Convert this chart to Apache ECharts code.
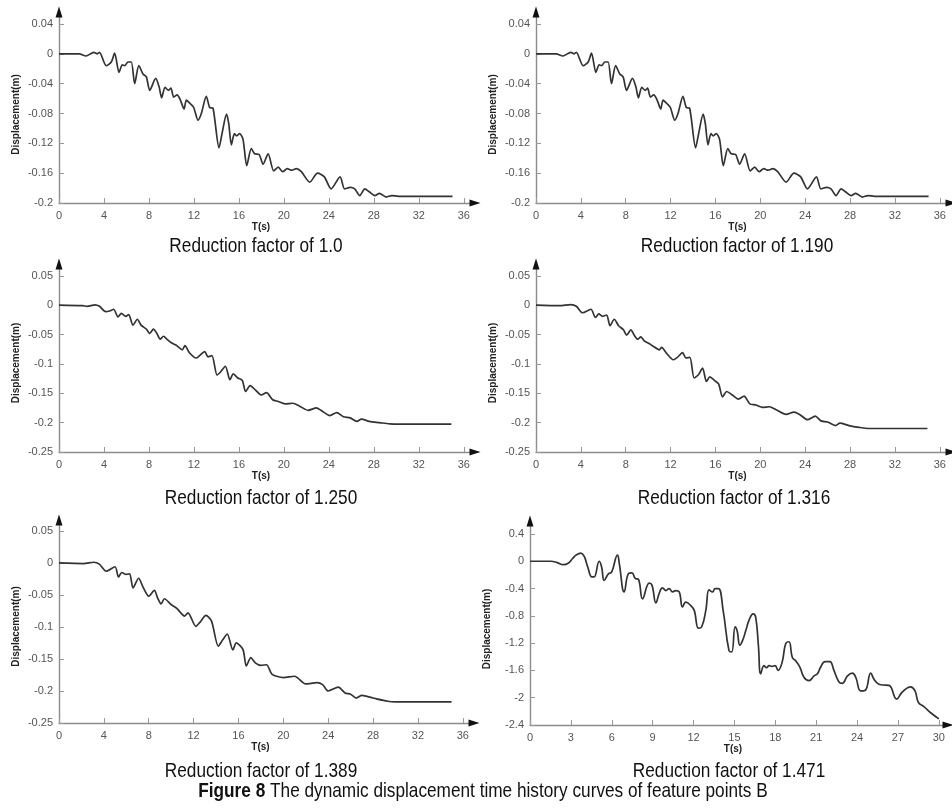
<!DOCTYPE html>
<html><head><meta charset="utf-8">
<script src="https://cdn.jsdelivr.net/npm/echarts@6/dist/echarts.min.js"></script>
<style>html,body{margin:0;padding:0;background:#fff}#c{width:952px;height:812px}</style>
</head><body><div id="c"></div>
<script>
// ---- data ----
const t1 = [0,1.8,2.4,3.1,3.4,3.6,4.2,4.65,4.95,5.34,5.63,5.84,6.14,6.43,6.73,7.1,7.47,7.77,8.07,8.6,8.9,9.13,9.43,9.73,9.95,10.2,10.5,10.8,11.12,11.33,11.68,11.98,12.37,12.66,13.1,13.4,13.7,14.23,14.5,14.9,15.1,15.33,15.6,15.8,16.07,16.37,16.7,17.1,17.4,17.8,18.15,18.6,19.1,19.5,19.9,20.3,20.7,21.1,21.55,22.3,23.0,23.6,24.2,25.0,25.4,25.9,26.3,26.75,27.2,27.6,28.1,28.5,29.1,29.6,30.2,35];
const d1 = [0,0,-0.003,0.002,0,0.002,-0.016,-0.011,0.001,-0.025,-0.015,-0.016,-0.011,-0.011,-0.040,-0.016,-0.027,-0.031,-0.049,-0.033,-0.044,-0.059,-0.045,-0.049,-0.046,-0.058,-0.055,-0.062,-0.074,-0.062,-0.067,-0.072,-0.089,-0.080,-0.057,-0.072,-0.073,-0.126,-0.107,-0.081,-0.094,-0.122,-0.107,-0.110,-0.107,-0.115,-0.150,-0.127,-0.134,-0.135,-0.148,-0.134,-0.157,-0.152,-0.158,-0.154,-0.156,-0.154,-0.158,-0.172,-0.160,-0.165,-0.181,-0.165,-0.181,-0.179,-0.181,-0.190,-0.181,-0.185,-0.190,-0.187,-0.192,-0.190,-0.191,-0.191];
const t2 = [0,1.8,2.4,3.1,3.4,3.6,4.2,4.65,4.95,5.34,5.63,5.84,6.14,6.43,6.73,7.1,7.47,7.77,8.07,8.6,8.9,9.13,9.43,9.73,9.95,10.2,10.5,10.8,11.12,11.33,11.68,11.98,12.37,12.66,13.1,13.4,13.7,14.23,14.5,14.9,15.1,15.33,15.6,15.8,16.07,16.37,16.7,17.1,17.4,17.8,18.15,18.6,19.1,19.5,19.9,20.3,20.7,21.1,21.55,22.3,23.0,23.6,24.2,25.0,25.4,25.9,26.3,26.75,27.2,27.6,28.1,28.5,29.1,29.6,30.2,35];
const d2 = [0,0,-0.003,0.002,0,0.002,-0.016,-0.011,0.001,-0.025,-0.015,-0.016,-0.011,-0.011,-0.040,-0.016,-0.027,-0.031,-0.049,-0.033,-0.044,-0.059,-0.045,-0.049,-0.046,-0.058,-0.055,-0.062,-0.074,-0.062,-0.067,-0.072,-0.089,-0.080,-0.057,-0.072,-0.073,-0.126,-0.107,-0.081,-0.094,-0.122,-0.107,-0.110,-0.107,-0.115,-0.150,-0.127,-0.134,-0.135,-0.148,-0.134,-0.157,-0.152,-0.158,-0.154,-0.156,-0.154,-0.158,-0.172,-0.160,-0.165,-0.181,-0.165,-0.181,-0.179,-0.181,-0.190,-0.181,-0.185,-0.190,-0.187,-0.192,-0.190,-0.191,-0.191];
const t3 = [0,2.1,2.5,3.2,3.6,4.15,4.5,4.86,5.25,5.55,5.93,6.2,6.58,6.97,7.3,7.77,8.07,8.4,8.7,9.0,9.3,9.6,10.0,10.4,10.97,11.2,11.6,12.2,12.5,12.96,13.25,13.6,14.06,14.4,14.8,15.2,15.5,15.9,16.3,16.6,17.0,17.5,18.0,18.45,19.0,19.5,20.1,20.8,21.4,22.15,22.9,23.3,24.1,24.7,25.3,25.9,26.5,26.9,27.6,28.5,29.4,30.3,34.9];
const d3 = [0,-0.001,-0.002,0.0005,-0.002,-0.011,-0.010,-0.007,-0.020,-0.014,-0.019,-0.016,-0.034,-0.024,-0.034,-0.041,-0.048,-0.041,-0.048,-0.058,-0.053,-0.058,-0.064,-0.068,-0.076,-0.069,-0.081,-0.090,-0.086,-0.079,-0.088,-0.086,-0.119,-0.113,-0.104,-0.127,-0.117,-0.124,-0.128,-0.147,-0.137,-0.145,-0.153,-0.149,-0.161,-0.164,-0.168,-0.167,-0.172,-0.179,-0.175,-0.179,-0.188,-0.183,-0.190,-0.192,-0.198,-0.194,-0.198,-0.200,-0.202,-0.2025,-0.2025];
const t4 = [0,2.1,3.1,3.6,4.15,4.9,5.3,5.6,5.94,6.3,6.6,6.98,7.36,7.8,8.08,8.46,8.75,9.06,9.35,9.65,10.04,10.45,11.0,11.2,11.64,12.24,12.6,13.07,13.36,13.72,14.1,14.5,14.85,15.2,15.5,15.9,16.28,16.63,17.0,17.5,18.05,18.55,19.06,19.6,20.2,20.8,21.4,22.3,23.0,23.5,24.2,24.9,25.4,26.0,26.7,27.1,27.9,28.8,29.7,34.9];
const d4 = [0,-0.001,0.001,-0.002,-0.013,-0.007,-0.021,-0.015,-0.019,-0.017,-0.035,-0.024,-0.035,-0.042,-0.051,-0.042,-0.051,-0.058,-0.054,-0.061,-0.065,-0.070,-0.076,-0.072,-0.082,-0.093,-0.089,-0.081,-0.090,-0.089,-0.124,-0.118,-0.107,-0.130,-0.122,-0.128,-0.134,-0.156,-0.147,-0.153,-0.160,-0.155,-0.168,-0.170,-0.174,-0.173,-0.178,-0.186,-0.182,-0.186,-0.195,-0.189,-0.197,-0.199,-0.205,-0.201,-0.205,-0.208,-0.210,-0.210];
const t5 = [0,2.2,3.1,3.6,4.2,5.0,5.3,5.6,6.0,6.3,6.6,7.1,7.5,8.0,8.5,8.8,9.1,9.4,10.0,10.5,11.2,11.5,12.2,12.6,13.1,13.6,14.2,14.6,15.0,15.5,15.8,16.4,16.7,17.1,17.5,18.0,18.5,19.0,20.0,21.0,22.0,23.0,23.5,24.0,24.9,25.5,26.0,26.5,27.0,28.0,29.3,30.0,35.0];
const d5 = [0,-0.001,0.001,-0.002,-0.013,-0.006,-0.022,-0.015,-0.018,-0.017,-0.039,-0.024,-0.038,-0.052,-0.043,-0.055,-0.064,-0.056,-0.065,-0.071,-0.083,-0.078,-0.099,-0.092,-0.082,-0.091,-0.130,-0.120,-0.111,-0.136,-0.125,-0.135,-0.161,-0.148,-0.156,-0.160,-0.159,-0.174,-0.179,-0.177,-0.189,-0.187,-0.190,-0.200,-0.194,-0.203,-0.205,-0.211,-0.207,-0.211,-0.216,-0.217,-0.217];
const t6 = [0,1.54,2.0,2.44,2.8,3.13,3.37,3.74,3.98,4.23,4.54,4.7,5.08,5.25,5.45,5.77,5.95,6.42,6.55,6.91,7.23,7.48,7.72,7.97,8.26,8.75,8.95,9.24,9.48,9.72,9.97,10.2,10.46,10.7,10.95,11.19,11.43,11.8,12.05,12.36,12.6,12.9,13.14,13.4,13.58,13.83,14.17,14.6,14.8,15.05,15.2,15.4,15.6,15.83,16.08,16.37,16.56,16.76,16.93,17.17,17.35,17.54,17.75,17.98,18.2,18.5,18.76,19.0,19.25,19.5,19.8,20.1,20.47,20.84,21.09,21.33,21.65,22.0,22.3,22.67,22.9,23.3,23.65,23.9,24.26,24.6,25.0,25.24,25.5,25.73,26.34,26.9,27.3,27.93,28.25,28.5,28.9,29.4,30.0];
const d6 = [0,0,-0.02,-0.05,-0.03,0.04,0.09,0.12,0.07,-0.08,-0.23,-0.23,0.0,-0.08,-0.28,-0.18,-0.17,0.09,-0.03,-0.45,-0.18,-0.17,-0.25,-0.27,-0.55,-0.32,-0.35,-0.61,-0.47,-0.39,-0.43,-0.40,-0.45,-0.43,-0.45,-0.67,-0.60,-0.65,-0.72,-0.98,-0.96,-0.72,-0.42,-0.45,-0.40,-0.40,-0.72,-1.31,-1.33,-0.96,-1.02,-1.23,-1.16,-1.02,-0.86,-0.77,-0.82,-1.24,-1.65,-1.53,-1.56,-1.53,-1.54,-1.53,-1.60,-1.48,-1.21,-1.18,-1.41,-1.46,-1.55,-1.70,-1.75,-1.68,-1.65,-1.55,-1.47,-1.47,-1.60,-1.77,-1.79,-1.68,-1.64,-1.70,-1.90,-1.89,-1.64,-1.73,-1.79,-1.81,-1.82,-2.02,-1.92,-1.84,-1.90,-2.07,-2.13,-2.22,-2.31];

const xTicks36 = [0,4,8,12,16,20,24,28,32,36];
const xTicks30 = [0,3,6,9,12,15,18,21,24,27,30];
const yTicksA = [-0.2,-0.16,-0.12,-0.08,-0.04,0,0.04];
const yTicksB = [-0.25,-0.2,-0.15,-0.1,-0.05,0,0.05];
const yTicksC = [-2.4,-2,-1.6,-1.2,-0.8,-0.4,0,0.4];

const subtitles = ['Reduction factor of 1.0','Reduction factor of 1.190','Reduction factor of 1.250','Reduction factor of 1.316','Reduction factor of 1.389','Reduction factor of 1.471'];
const xName = 'T(s)';
const yName = 'Displacement(m)';
const captionBold = 'Figure 8';
const captionRest = ' The dynamic displacement time history curves of feature points B';

// ---- layout ----
const panels = [
  {t:t1, d:d1, xt:xTicks36, yt:yTicksA, left:59,  top:12,  width:416, height:191, xMax:37,    yMin:-0.2,  yMax:0.056, yShift:7, sub:[256,246]},
  {t:t2, d:d2, xt:xTicks36, yt:yTicksA, left:536, top:12,  width:415, height:191, xMax:37,    yMin:-0.2,  yMax:0.056, yShift:7, sub:[737,246]},
  {t:t3, d:d3, xt:xTicks36, yt:yTicksB, left:59,  top:264, width:416, height:188, xMax:37,    yMin:-0.25, yMax:0.07,  yShift:5, sub:[261,498]},
  {t:t4, d:d4, xt:xTicks36, yt:yTicksB, left:536, top:264, width:415, height:188, xMax:37,    yMin:-0.25, yMax:0.07,  yShift:5, sub:[734,498]},
  {t:t5, d:d5, xt:xTicks36, yt:yTicksB, left:59,  top:520, width:415, height:203, xMax:37,    yMin:-0.25, yMax:0.067, yShift:5, sub:[261,771]},
  {t:t6, d:d6, xt:xTicks30, yt:yTicksC, left:530, top:521, width:418, height:204, xMax:30.67, yMin:-2.4,  yMax:0.59,  yShift:6, sub:[729,771]}
];

const FONT = "'Liberation Sans', Arial, sans-serif";
const NARROW_SCALE = 0.82;   // emulate Arial Narrow
const fmt = v => String(Math.round(v * 1000) / 1000);

const grid = [], xAxis = [], yAxis = [], series = [], graphic = [];
panels.forEach((p, i) => {
  grid.push({left:p.left, top:p.top, width:p.width, height:p.height, containLabel:false});
  const axisLineMain = {show:true, onZero:false, lineStyle:{color:'#8c8c8c', width:1.4}};
  xAxis.push({
    type:'value', gridIndex:i, min:0, max:p.xMax, position:'bottom',
    axisLine:axisLineMain,
    axisTick:{show:true, inside:true, length:5, customValues:p.xt, lineStyle:{color:'#999', width:1}},
    axisLabel:{show:true, customValues:p.xt, margin:7, color:'#555', fontSize:11, fontFamily:FONT, formatter:fmt},
    splitLine:{show:false},
    name:xName, nameLocation:'middle', nameGap:18,
    nameTextStyle:{fontWeight:'bold', fontSize:10, color:'#222', fontFamily:FONT, padding:[0,12,0,0]}
  });
  yAxis.push({
    type:'value', gridIndex:i, min:p.yMin, max:p.yMax, position:'left',
    axisLine:axisLineMain,
    axisTick:{show:true, inside:true, length:5, customValues:p.yt, lineStyle:{color:'#999', width:1}},
    axisLabel:{show:true, customValues:p.yt, margin:6, color:'#555', fontSize:11, fontFamily:FONT, formatter:fmt},
    splitLine:{show:false},
    name:yName, nameLocation:'middle', nameGap:38,
    nameTextStyle:{fontWeight:'bold', fontSize:10, color:'#222', fontFamily:FONT, padding:[0, 2*p.yShift, 0, 0]}
  });
  series.push({
    type:'line', xAxisIndex:i, yAxisIndex:i,
    data:p.t.map((x, k) => [x, p.d[k]]),
    showSymbol:false, symbol:'none', smooth:(i === 5 ? 0.45 : 0.25),
    lineStyle:{color:'#333', width:1.7}, silent:true, animation:false
  });
  graphic.push({type:'text', x:p.sub[0], y:p.sub[1], scaleX:NARROW_SCALE,
    style:{text:subtitles[i], fill:'#111', font:'21px ' + FONT, textAlign:'center', textVerticalAlign:'middle'}});
});
// overlay axes that only draw the black arrow heads
panels.forEach((p, i) => {
  const arrowLine = {show:true, onZero:false, symbol:['none','triangle'], symbolSize:[7,11], lineStyle:{color:'#111', width:0}};
  xAxis.push({type:'value', gridIndex:i, min:0, max:p.xMax, position:'bottom', axisLine:arrowLine,
    axisTick:{show:false}, axisLabel:{show:false}, splitLine:{show:false}});
  yAxis.push({type:'value', gridIndex:i, min:p.yMin, max:p.yMax, position:'left', axisLine:arrowLine,
    axisTick:{show:false}, axisLabel:{show:false}, splitLine:{show:false}});
});
graphic.push({type:'text', x:483, y:791, scaleX:NARROW_SCALE, style:{
  text:'{b|' + captionBold + '}' + captionRest,
  font:'21px ' + FONT, fill:'#111', textAlign:'center', textVerticalAlign:'middle',
  rich:{b:{fontWeight:'bold', fontSize:21, fontFamily:FONT, fill:'#111'}}
}});

const chart = echarts.init(document.getElementById('c'), null, {renderer:'canvas'});
chart.setOption({backgroundColor:'#fff', animation:false, grid, xAxis, yAxis, series, graphic});
</script></body></html>
